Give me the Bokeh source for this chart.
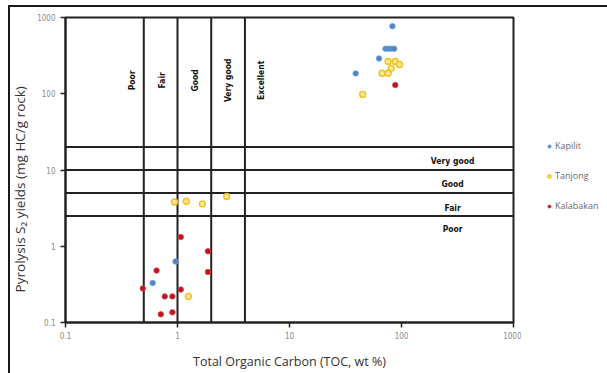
import math
from bokeh.plotting import figure
from bokeh.layouts import row
from bokeh.models import Range1d, FixedTicker, Legend, LegendItem
from bokeh.core.properties import value
from bokeh.embed import file_html
from bokeh.resources import INLINE

# ---- data ----
kapilit_toc = [83, 72, 76, 81, 86, 63, 39, 0.96, 0.60]
kapilit_s2 = [770, 390, 390, 390, 390, 290, 185, 0.63, 0.33]

tanjong_toc = [76, 88, 96, 81, 67, 76, 45, 0.94, 1.20, 1.67, 2.75, 1.25]
tanjong_s2 = [265, 265, 242, 215, 186, 186, 98, 3.8, 3.9, 3.6, 4.5, 0.22]

kalabakan_toc = [88, 1.07, 1.87, 1.87, 0.65, 0.49, 1.07, 0.77, 0.90, 0.71, 0.90]
kalabakan_s2 = [130, 1.32, 0.86, 0.46, 0.48, 0.28, 0.27, 0.22, 0.22, 0.128, 0.136]

series_names = ["Kapilit", "Tanjong", "Kalabakan"]

toc_bounds = [0.5, 1, 2, 4]          # vertical class limits (TOC, wt %)
s2_bounds = [2.5, 5, 10, 20]         # horizontal class limits (S2)

toc_classes = ["Poor", "Fair", "Good", "Very good", "Excellent"]
s2_classes = ["Very good", "Good", "Fair", "Poor"]

axis_ticks = [0.1, 1, 10, 100, 1000]
axis_tick_labels = ["0.1", "1", "10", "100", "1000"]

x_title = "Total Organic Carbon (TOC, wt %)"
y_title = "Pyrolysis S\u2082 yields (mg HC/g rock)"

# label anchor positions (annotation placement)
toc_label_x = [0.39, 0.72, 1.42, 2.8, 5.6]
toc_label_y = 150
s2_label_x = 286
s2_label_y = [13.3, 6.65, 3.22, 1.66]

NARROW = "Liberation Sans Narrow, DejaVu Sans Condensed, sans-serif"
LINE = "#222222"

styles = {
    "Kapilit": dict(size=5.5, fill_color="#4f86c6", line_color="#6f9fd6", line_width=0.8),
    "Tanjong": dict(size=6, fill_color="#f7e79a", line_color="#efc21a", line_width=1.4),
    "Kalabakan": dict(size=5.5, fill_color="#c0141e", line_color="#d2444c", line_width=0.8),
}

p = figure(width=513, height=368, x_axis_type="log", y_axis_type="log",
           x_range=Range1d(0.1, 1000), y_range=Range1d(0.1, 1000),
           output_backend="svg", toolbar_location=None,
           min_border_left=56, min_border_right=8, min_border_top=12,
           min_border_bottom=51)
p.border_fill_color = None
p.background_fill_color = "white"
p.grid.visible = False
p.outline_line_color = LINE
p.outline_line_width = 2

for ax in (p.xaxis[0], p.yaxis[0]):
    ax.ticker = FixedTicker(ticks=axis_ticks, minor_ticks=[])
    ax.major_label_overrides = dict(zip(axis_ticks, axis_tick_labels))
    ax.axis_line_color = LINE
    ax.axis_line_width = 2
    ax.major_tick_line_color = LINE
    ax.major_tick_line_width = 1.5
    ax.major_tick_out = 5
    ax.major_tick_in = 0
    ax.minor_tick_line_color = None
    ax.major_label_text_font = NARROW
    ax.major_label_text_font_size = "8px"
    ax.major_label_text_color = "#8a8a8a"
    ax.axis_label_text_font = "Open Sans"
    ax.axis_label_text_font_style = "normal"
    ax.axis_label_text_color = "#333333"

p.xaxis.axis_label_text_font_size = "12.5px"
p.yaxis.axis_label_text_font_size = "13.5px"
p.xaxis.axis_label = x_title
# trailing no-break spaces push the visible title a little lower, as in the reference
p.yaxis.axis_label = y_title + "\u00a0" * 11
p.xaxis.major_label_standoff = 4
p.yaxis.major_label_standoff = 5
p.xaxis.axis_label_standoff = 11
p.yaxis.axis_label_standoff = 5

# class boundary lines
p.segment(x0=toc_bounds, y0=[0.1] * len(toc_bounds), x1=toc_bounds,
          y1=[1000] * len(toc_bounds), line_color=LINE, line_width=2)
p.segment(x0=[0.1] * len(s2_bounds), y0=s2_bounds, x1=[1000] * len(s2_bounds),
          y1=s2_bounds, line_color=LINE, line_width=2)

# class labels
p.text(x=toc_label_x, y=[toc_label_y] * len(toc_classes), text=toc_classes,
       angle=math.pi / 2, text_align="center", text_baseline="middle",
       text_font=value(NARROW), text_font_style="bold",
       text_font_size="8.5px", text_color="#111111")
p.text(x=[s2_label_x] * len(s2_classes), y=s2_label_y, text=s2_classes,
       text_align="center", text_baseline="middle",
       text_font=value(NARROW), text_font_style="bold",
       text_font_size="8.5px", text_color="#111111")

# samples
p.scatter(kapilit_toc, kapilit_s2, **styles["Kapilit"])
p.scatter(tanjong_toc, tanjong_s2, **styles["Tanjong"])
p.scatter(kalabakan_toc, kalabakan_s2, **styles["Kalabakan"])

# legend panel (separate narrow figure to the right)
q = figure(width=86, height=368, x_range=Range1d(0, 1), y_range=Range1d(0, 1),
           output_backend="svg", toolbar_location=None,
           x_axis_location=None, y_axis_location=None,
           min_border_left=0, min_border_right=0, min_border_top=0,
           min_border_bottom=0)
q.grid.visible = False
q.outline_line_color = None
q.border_fill_color = None
q.background_fill_color = None
items = []
for name in series_names:
    # off-range placeholder renderer: only its legend swatch is visible
    r = q.scatter(x=[5], y=[5], **styles[name])
    items.append(LegendItem(label=name, renderers=[r]))
legend = Legend(items=items, location=(24, 110), orientation="vertical")
legend.border_line_color = None
legend.background_fill_alpha = 0
legend.padding = 0
legend.margin = 0
legend.glyph_width = 8
legend.glyph_height = 10
legend.label_height = 10
legend.label_standoff = 2
legend.spacing = 17
legend.label_text_font = "Open Sans"
legend.label_text_font_size = "9px"
legend.label_text_color = "#6b6b6b"
q.add_layout(legend, "center")

layout = row(p, q, spacing=0)
layout.margin = (5, 0, 0, 8)
layout.styles = {"box-shadow": "inset 2px 2px 0 0 #1a1a1a"}

open("out.html", "w").write(file_html(layout, INLINE))
